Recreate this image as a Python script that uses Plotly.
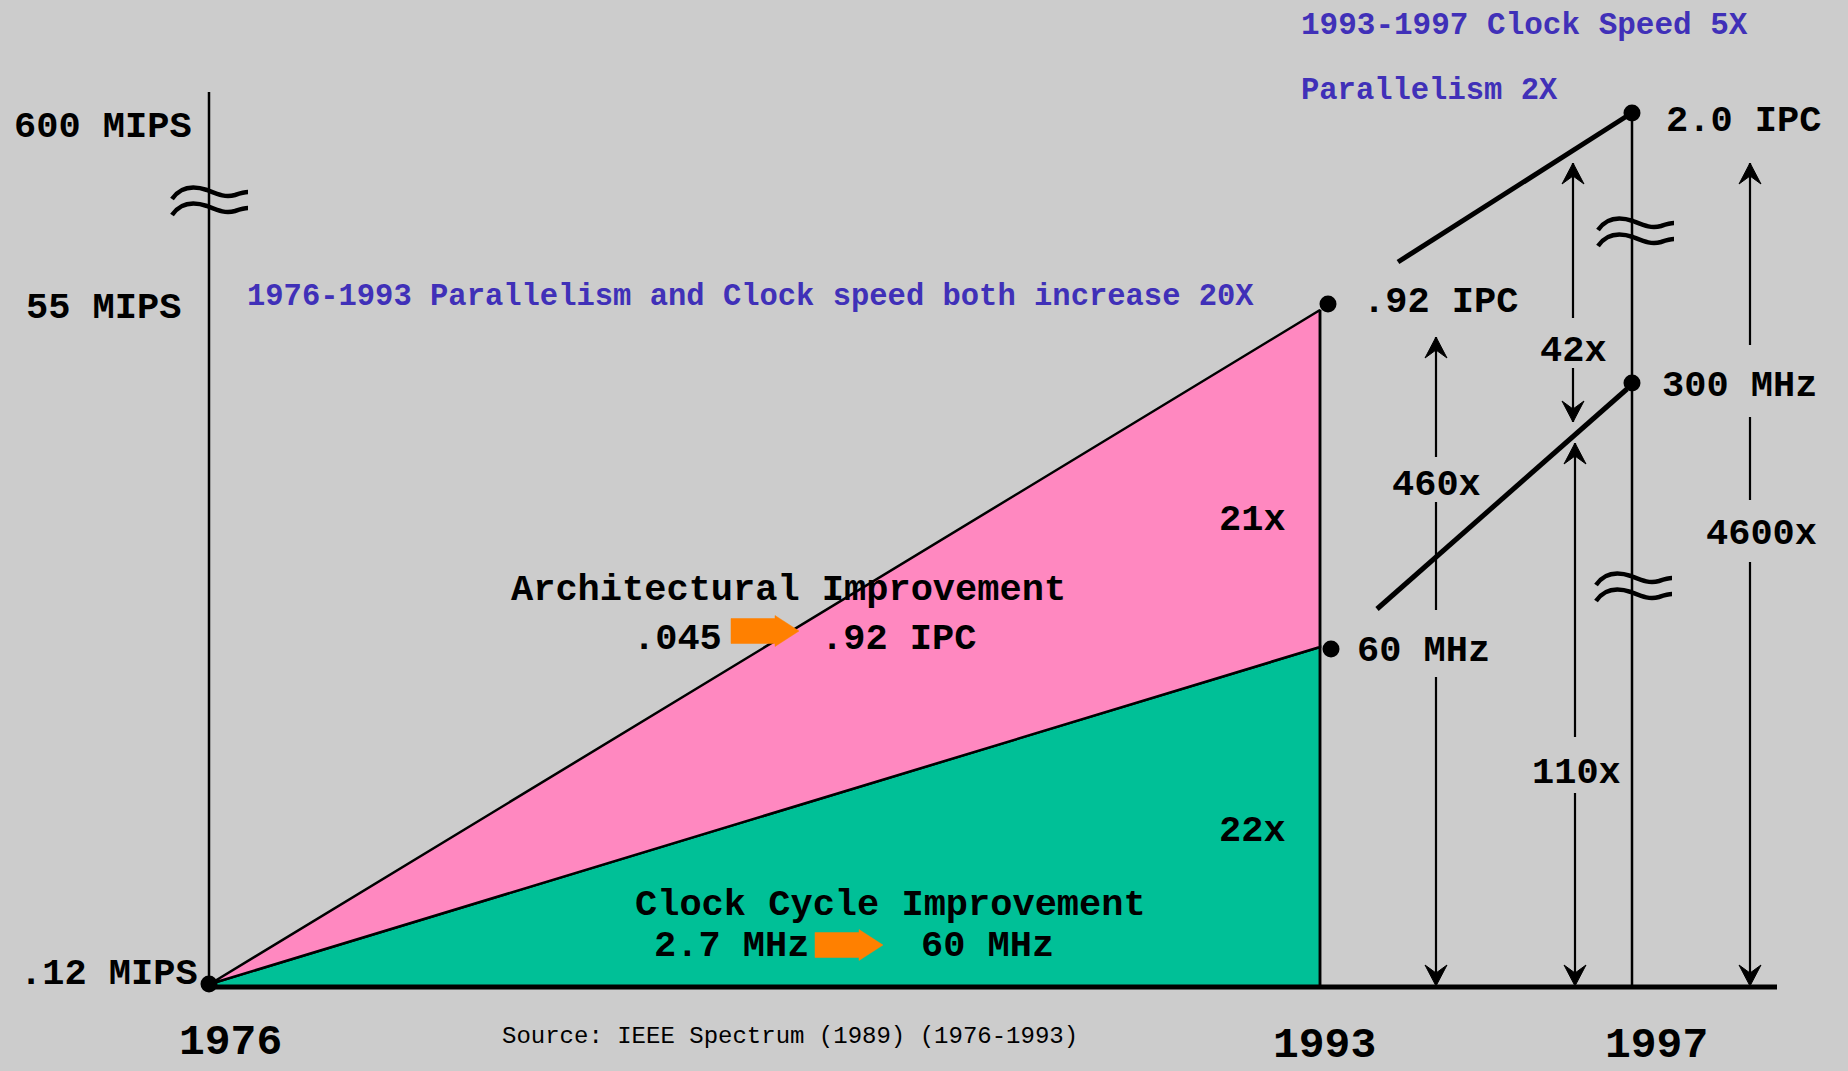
import plotly.graph_objects as go

# ---------------------------------------------------------------------------
# Content: milestones, performance levels and improvement factors
# ---------------------------------------------------------------------------
years = ["1976", "1993", "1997"]
mips_levels = ["600 MIPS", "55 MIPS", ".12 MIPS"]
ipc_values = [".045", ".92 IPC", "2.0 IPC"]        # instructions per clock, 1976 / 1993 / 1997
clock_values = ["2.7 MHz", "60 MHz", "300 MHz"]     # clock rate, 1976 / 1993 / 1997
gain_arch_76_93 = "21x"
gain_clock_76_93 = "22x"
gain_ipc_93_97 = "42x"
gain_clock_93_97 = "110x"
gain_total_93 = "460x"
gain_total_97 = "4600x"
title_76_93 = "1976-1993 Parallelism and Clock speed both increase 20X"
title_93_97 = ["1993-1997 Clock Speed 5X", "Parallelism 2X"]
band_titles = ["Architectural Improvement", "Clock Cycle Improvement"]
source_note = "Source: IEEE Spectrum (1989) (1976-1993)"

# ---------------------------------------------------------------------------
# Schematic layout (diagram units, y grows downwards)
# ---------------------------------------------------------------------------
W, H = 1848, 1071
year_x = [210, 1320, 1632]          # vertical time markers
base_y = 987                        # time axis
origin_y = 984
ipc_y = [310, 113]                  # IPC curve height at 1993 / 1997
clk_y = [647, 383]                  # clock curve height at 1993 / 1997
axis_top = 92
axis_right = 1777

BG = "#CCCCCC"
PINK = "#FF88C0"
GREEN = "#00C097"
PURPLE = "#4030B8"
ORANGE = "#FF8000"
FONT = "Liberation Mono"

fig = go.Figure()


def poly(xs, ys, fill, line_w=2.5):
    fig.add_trace(go.Scatter(x=xs, y=ys, mode="lines", fill="toself",
                             fillcolor=fill, line=dict(color="black", width=line_w),
                             hoverinfo="skip", showlegend=False))


def segs(seglist, width):
    xs, ys = [], []
    for (x0, y0, x1, y1) in seglist:
        xs += [x0, x1, None]
        ys += [y0, y1, None]
    fig.add_trace(go.Scatter(x=xs, y=ys, mode="lines",
                             line=dict(color="black", width=width),
                             hoverinfo="skip", showlegend=False))


# Clock-cycle band (green) and architectural band (pink)
x76, x93, x97 = year_x
poly([x76, x93, x93, x76, x76], [origin_y, clk_y[0], base_y, base_y, origin_y], GREEN)
poly([x76, x93, x93, x76], [origin_y, ipc_y[0], clk_y[0], origin_y], PINK)

# thin structural lines
segs([
    (x76 - 1, axis_top, x76 - 1, origin_y),
    (x93, ipc_y[0], x93, base_y),
    (x97, ipc_y[1], x97, base_y),
], 2.5)

# time axis and the 1993-1997 trend segments
segs([
    (x76, base_y, axis_right, base_y),
    (1398, 262, 1627, 116),
    (1377, 609, 1627, 389),
], 5)

# dimension arrows: x position, shaft pieces, arrowhead tips (up, down)
arrows = [
    (1436, [(337, 457), (502, 610), (677, 983)], 337, 986),
    (1573, [(163, 318), (368, 422)], 163, 422),
    (1575, [(443, 737), (793, 983)], 443, 986),
    (1750, [(163, 345), (417, 500), (562, 983)], 163, 986),
]
shaft = []
hx, hy = [], []
for ax, pieces, up_tip, dn_tip in arrows:
    for (a, b) in pieces:
        shaft.append((ax, a, ax, b))
    hx += [ax, ax + 11, ax, ax - 11, ax, None]
    hy += [up_tip, up_tip + 21, up_tip + 13, up_tip + 21, up_tip, None]
    hx += [ax, ax + 11, ax, ax - 11, ax, None]
    hy += [dn_tip, dn_tip - 21, dn_tip - 13, dn_tip - 21, dn_tip, None]
segs(shaft, 2.2)
fig.add_trace(go.Scatter(x=hx, y=hy, mode="lines", fill="toself", fillcolor="black",
                         line=dict(color="black", width=1), hoverinfo="skip",
                         showlegend=False))

# block arrows inside the bands
bx, by = [], []
for x0, cy in [(731, 631), (815, 945)]:
    bx += [x0, x0 + 44, x0 + 44, x0 + 68, x0 + 44, x0 + 44, x0, x0, None]
    by += [cy - 12.5, cy - 12.5, cy - 15.5, cy, cy + 15.5, cy + 12.5, cy + 12.5, cy - 12.5, None]
fig.add_trace(go.Scatter(x=bx, y=by, mode="lines", fill="toself", fillcolor=ORANGE,
                         line=dict(color=ORANGE, width=0.5), hoverinfo="skip",
                         showlegend=False))

# data points
fig.add_trace(go.Scatter(
    x=[x76 - 1, 1328, 1331, x97, x97],
    y=[origin_y, 304, 649, ipc_y[1], clk_y[1]],
    mode="markers", marker=dict(color="black", size=17),
    hoverinfo="skip", showlegend=False))


# axis-break marks
def squiggle(cx, cy):
    d = ""
    for off in (-8, 8):
        y = cy + off
        d += (f"M {cx-37},{y+7} C {cx-28},{y-6} {cx-14},{y-6} {cx-2},{y-2} "
              f"C {cx+8},{y+2} {cx+16},{y+6} {cx+26},{y+3} "
              f"C {cx+32},{y+1} {cx+36},{y} {cx+39},{y} ")
    fig.add_shape(type="path", path=d, xref="x", yref="y",
                  line=dict(color="black", width=4.5))


squiggle(209, 200)
squiggle(1635, 231)
squiggle(1633, 586)


# text
def label(text, x, y, size=37, color="black", anchor="left", bold=True):
    fig.add_annotation(x=x, y=y, xref="x", yref="y", text=f"<b>{text}</b>" if bold else text,
                       showarrow=False, xanchor=anchor, yanchor="middle",
                       font=dict(family=FONT, size=size, color=color))


label(mips_levels[0], 12, 127)
label(mips_levels[1], 24, 308)
label(mips_levels[2], 18, 974)

label(years[0], 230, 1042, size=43, anchor="center")
label(years[1], 1324, 1045, size=43, anchor="center")
label(years[2], 1656, 1045, size=43, anchor="center")

label(source_note, 500, 1036, size=24, bold=False)

label(title_76_93, 245, 297, size=30.5, color=PURPLE)
label(title_93_97[0], 1299, 25, size=31, color=PURPLE)
label(title_93_97[1], 1299, 91, size=30.5, color=PURPLE)

label(band_titles[0], 509, 590)
label(ipc_values[0], 631, 639)
label(ipc_values[1], 819, 639)
label(band_titles[1], 633, 905)
label(clock_values[0], 652, 946)
label(clock_values[1], 919, 946)

label(gain_arch_76_93, 1252, 520, anchor="center")
label(gain_clock_76_93, 1252, 831, anchor="center")

label(ipc_values[1], 1361, 302)
label(clock_values[1], 1355, 651)
label(ipc_values[2], 1664, 121)
label(clock_values[2], 1660, 386)

label(gain_total_93, 1436, 485, anchor="center")
label(gain_ipc_93_97, 1573, 351, anchor="center")
label(gain_clock_93_97, 1576, 773, anchor="center")
label(gain_total_97, 1761, 534, anchor="center")

fig.update_layout(
    width=W, height=H,
    margin=dict(l=0, r=0, t=0, b=0),
    paper_bgcolor=BG, plot_bgcolor=BG,
    xaxis=dict(range=[0, W], visible=False, fixedrange=True),
    yaxis=dict(range=[H, 0], visible=False, fixedrange=True),
    showlegend=False,
)

fig.write_html("out.html", config={"displayModeBar": False})
